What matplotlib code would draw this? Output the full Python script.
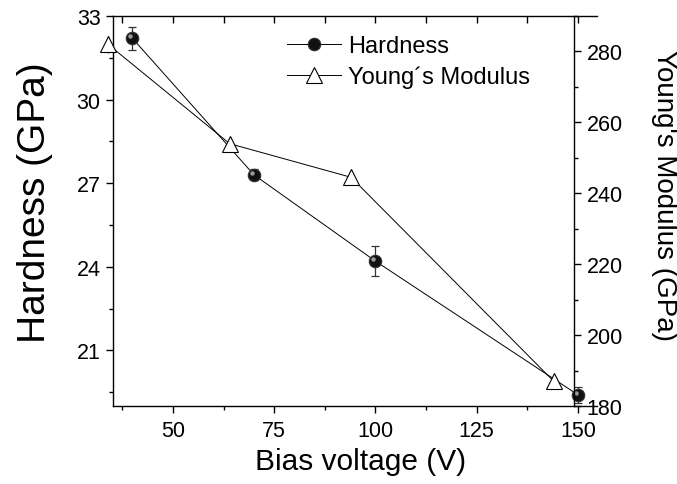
import numpy as np
import matplotlib.pyplot as plt
from matplotlib.ticker import MultipleLocator
from matplotlib.transforms import offset_copy

plt.rcParams['font.family'] = ['Liberation Sans', 'DejaVu Sans']

# data
bias_h = [40, 70, 100, 150]
hardness = [32.2, 27.3, 24.2, 19.4]
hardness_err = [0.42, 0.2, 0.55, 0.3]

bias_e = [34, 64, 94, 144]
modulus = [282, 254, 244.5, 187]
modulus_err = [2.5, 2, 2, 2]

fig = plt.figure(figsize=(6.77, 4.85), dpi=100)
ax = fig.add_axes([0.1669, 0.1608, 0.7149, 0.8041])
ax2 = ax.twinx()

ax.errorbar(bias_h, hardness, yerr=hardness_err, fmt='none',
            ecolor='#333333', elinewidth=0.9, capsize=3, capthick=0.9,
            clip_on=False, zorder=2)
l1, = ax.plot(bias_h, hardness, color='black', lw=0.7,
              marker='o', ms=9, mfc='#111111', mec='#333333', mew=0.8,
              clip_on=False, zorder=3, label='Hardness')
# little highlight so the dots look like spheres
ax.plot(bias_h, hardness, 'o', ms=3.2, color='#9a9a9a', mec='none',
        transform=offset_copy(ax.transData, fig, x=-2, y=2, units='dots'),
        clip_on=False, zorder=4)

ax2.errorbar(bias_e, modulus, yerr=modulus_err, fmt='none',
             ecolor='#333333', elinewidth=0.9, capsize=0,
             clip_on=False, zorder=2)
l2, = ax2.plot(bias_e, modulus, color='black', lw=0.7,
               marker='^', ms=12, mfc='white', mec='black', mew=0.8,
               clip_on=False, zorder=3, label='Young´s Modulus')

ax.set_xlim(35.2, 154.7)
ax.set_ylim(19, 33)
ax2.set_ylim(180, 290)

ax.xaxis.set_major_locator(MultipleLocator(25))
ax.xaxis.set_minor_locator(MultipleLocator(12.5))
ax.yaxis.set_major_locator(MultipleLocator(3))
ax.yaxis.set_minor_locator(MultipleLocator(1.5))
ax2.yaxis.set_major_locator(MultipleLocator(20))
ax2.yaxis.set_minor_locator(MultipleLocator(10))

for a in (ax, ax2):
    for s in a.spines.values():
        s.set_linewidth(1.0)
ax.spines['right'].set_visible(False)
ax2.spines['top'].set_visible(False)
ax2.spines['bottom'].set_visible(False)
ax2.spines['left'].set_visible(False)
ax2.spines['right'].set_position(('axes', 0.9525))

ax.tick_params(axis='x', which='major', direction='out', length=5, width=1,
               labelsize=15.5, pad=5, top=True)
ax.tick_params(axis='x', which='minor', direction='out', length=3, width=1, top=True)
ax.tick_params(axis='y', which='major', direction='out', length=5, width=1,
               labelsize=15.5, pad=4)
ax.tick_params(axis='y', which='minor', direction='out', length=3, width=1)
ax2.tick_params(axis='y', which='major', direction='out', length=5, width=1,
                labelsize=15.5, pad=4)
ax2.tick_params(axis='y', which='minor', direction='out', length=3, width=1)
# top ticks point inward
for t in ax.xaxis.get_major_ticks() + ax.xaxis.get_minor_ticks():
    t.tick2line.set_marker(3)
    t.tick2line.set_markersize(5)

ax.set_xlabel('Bias voltage (V)', fontsize=21.5)
ax.xaxis.set_label_coords(0.511, -0.105)
ax.set_ylabel('Hardness (GPa)', fontsize=28)
ax.yaxis.set_label_coords(-0.124, 0.524)
ax2.set_ylabel('Young\'s Modulus (GPa)', fontsize=20, rotation=270, va='bottom')
ax2.yaxis.set_label_coords(1.111, 0.5436)

leg = ax.legend([l1, l2], [l1.get_label(), l2.get_label()], loc='upper left',
                bbox_to_anchor=(287 / 677, 1 - 36 / 485),
                bbox_transform=fig.transFigure, frameon=False, fontsize=17,
                handlelength=2.3, handletextpad=0.3, labelspacing=0.35,
                borderpad=0, borderaxespad=0, numpoints=1)

fig.savefig('out.png', dpi=100)
